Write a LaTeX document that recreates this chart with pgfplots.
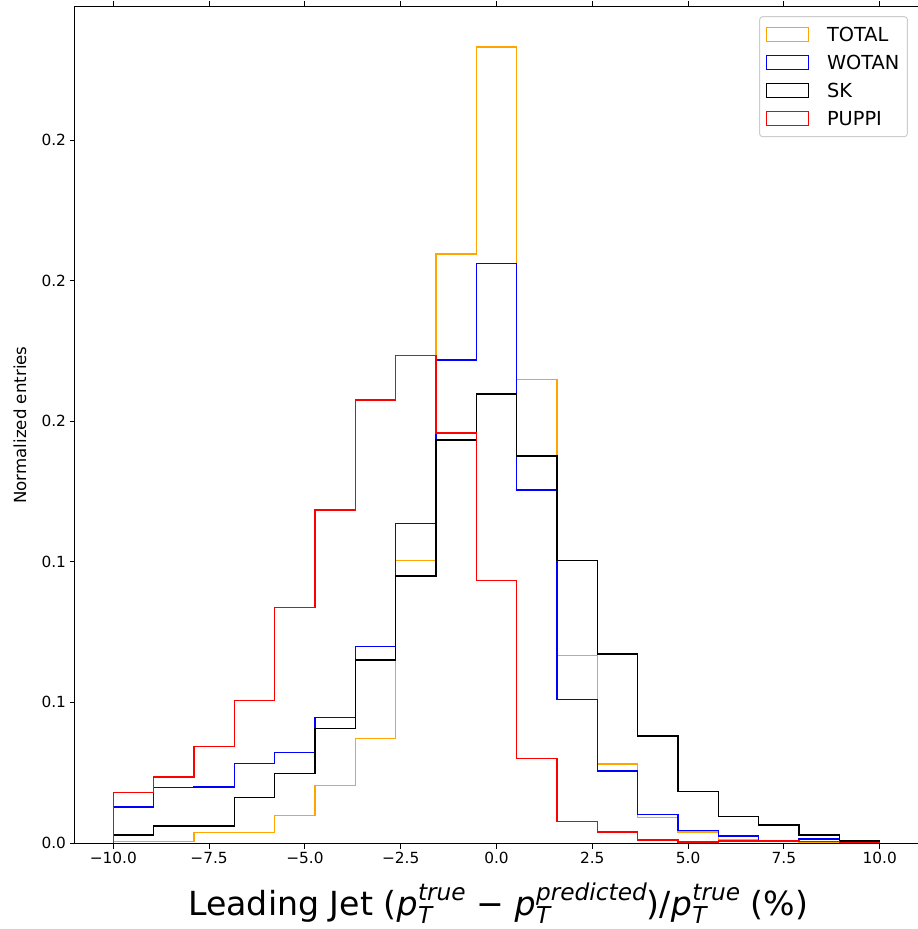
\documentclass[border=0pt]{standalone}
\usepackage{fontspec}
\setmainfont{DejaVu Sans}
\usepackage{pgfplots}
\pgfplotsset{compat=1.18}

\definecolor{mplorange}{RGB}{255,165,0}
\definecolor{mplblue}{RGB}{0,0,255}
\definecolor{mplred}{RGB}{255,0,0}

% p_T with a superscript, set in text (oblique) like matplotlib mathtext
\newcommand{\scr}{\fontsize{23.3}{23.3}\selectfont\itshape}
\newcommand{\pT}[1]{{\itshape p}\kern0.5bp\rlap{\raisebox{-7.8bp}{\scr T}}\raisebox{15.6bp}{\scr #1}}

% bin left edges (19 bins from -10 to 10), values are bin heights
\pgfplotstableread{
x          total   wotan   sk      puppi
-10        0       0       0       0
-10        0.0005  0.0128  0.0028  0.0179
-8.947368  0.0006  0.0197  0.0060  0.0235
-7.894737  0.0038  0.0200  0.0060  0.0343
-6.842105  0.0038  0.0282  0.0162  0.0506
-5.789474  0.0098  0.0322  0.0247  0.0837
-4.736842  0.0204  0.0446  0.0407  0.1184
-3.684211  0.0372  0.0698  0.0651  0.1575
-2.631579  0.1004  0.1137  0.0950  0.1734
-1.578947  0.2095  0.1718  0.1433  0.1458
-0.526316  0.2830  0.2060  0.1597  0.0933
0.526316   0.1648  0.1255  0.1377  0.0301
1.578947   0.0666  0.0511  0.1004  0.0076
2.631579   0.0281  0.0256  0.0672  0.0040
3.684211   0.0090  0.0102  0.0381  0.0011
4.736842   0.0039  0.0044  0.0184  0.0003
5.789474   0.0013  0.0025  0.0094  0.0007
6.842105   0.0005  0.0006  0.0064  0.0008
7.894737   0.0003  0.0015  0.0028  0.0005
8.947368   0.0003  0.0005  0.0007  0.0002
10         0       0       0       0
}\hist

\begin{document}
\begin{tikzpicture}
\useasboundingbox (-75bp,-86bp) rectangle (843bp,843bp);
\begin{axis}[
    at={(0,0)}, anchor=south west,
    scale only axis,
    width=843bp, height=836bp,
    xmin=-11, xmax=11,
    ymin=0, ymax=0.2973,
    axis line style={line width=1bp},
    tick align=outside,
    major tick length=5.5bp,
    tick style={line width=1bp, black},
    xtick={-10,-7.5,-5,-2.5,0,2.5,5,7.5,10},
    xticklabels={−10.0,−7.5,−5.0,−2.5,0.0,2.5,5.0,7.5,10.0},
    ytick={0,0.05,0.1,0.15,0.2,0.25},
    yticklabels={0.0,0.1,0.1,0.2,0.2,0.2},
    minor tick num=0,
    /pgf/number format/assume math mode=true,
    ticklabel style={font=\fontsize{15.4}{16}\selectfont},
    ylabel={Normalized entries},
    ylabel style={font=\fontsize{16.7}{18}\selectfont, at={(axis description cs:-0.0653,0.5)}, anchor=center},
    xlabel={Leading Jet (\pT{true} − \pT{predicted})/\pT{true} (\%)},
    xlabel style={font=\fontsize{33.3}{35}\selectfont, at={(axis description cs:0.502,-0.0873)}, anchor=base},
    legend style={
        at={(rel axis cs:0.988,0.989)}, anchor=north east,
        font=\fontsize{19.4}{20}\selectfont,
        draw=black!20, line width=1bp, rounded corners=3bp,
        inner xsep=6bp, inner ysep=4bp,
        row sep=0bp,
        nodes={inner xsep=2bp, inner ysep=5bp, text height=16bp, text depth=2bp},
        legend cell align=left,
    },
    legend image code/.code={
        \draw[#1, line width=1.4bp, sharp corners] (0bp,-7bp) rectangle (42bp,7bp);
        \path (58bp,0bp);
    },
    every axis plot/.append style={const plot mark left, line width=1.5bp, mark=none},
]
\addplot[mplorange] table[x=x, y=total] {\hist};
\addlegendentry{TOTAL}
\addplot[mplblue] table[x=x, y=wotan] {\hist};
\addlegendentry{WOTAN}
\addplot[black] table[x=x, y=sk] {\hist};
\addlegendentry{SK}
\addplot[mplred] table[x=x, y=puppi] {\hist};
\addlegendentry{PUPPI}
\end{axis}
\end{tikzpicture}
\end{document}
